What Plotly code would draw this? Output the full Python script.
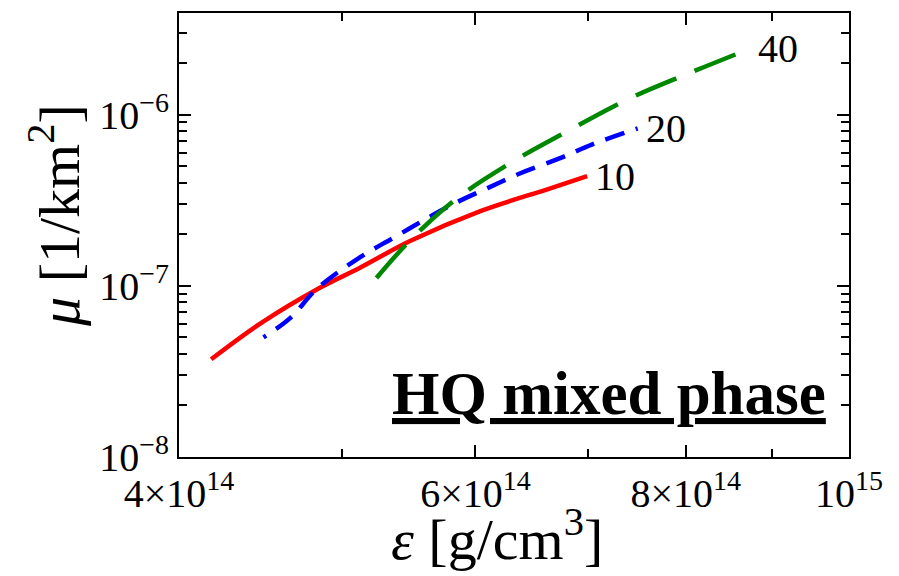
import numpy as np
import plotly.graph_objects as go

# energy density [g/cm^3] and mu [1/km^2] for each curve
eps_10 = [4.18e14, 4.47e14, 4.85e14, 5.12e14, 5.49e14, 6.04e14, 6.62e14, 6.99e14]
mu_10 = [3.72e-8, 6.01e-8, 9.73e-8, 1.27e-7, 1.83e-7, 2.73e-7, 3.66e-7, 4.37e-7]

eps_20 = [4.49e14, 4.66e14, 4.83e14, 5.12e14, 5.36e14, 5.58e14, 5.82e14, 6.10e14,
          6.38e14, 6.73e14, 7.04e14, 7.49e14]
mu_20 = [4.99e-8, 6.52e-8, 9.6e-8, 1.46e-7, 1.90e-7, 2.39e-7, 3.00e-7, 3.72e-7,
         4.54e-7, 5.54e-7, 6.70e-7, 8.30e-7]

eps_40 = [5.24e14, 5.46e14, 5.82e14, 6.29e14, 6.80e14, 7.38e14, 8.02e14, 8.73e14]
mu_40 = [1.11e-7, 1.75e-7, 3.12e-7, 5.19e-7, 7.96e-7, 1.22e-6, 1.73e-6, 2.42e-6]

curve_labels = ["10", "20", "40"]

x_tickvals = [4e14, 6e14, 8e14, 1e15]
x_ticktext = ["4×10<sup>14</sup>", "6×10<sup>14</sup>", "8×10<sup>14</sup>", "10<sup>15</sup>"]
x_minor = [5e14, 7e14, 9e14]

y_tickvals = [1e-8, 1e-7, 1e-6]
y_ticktext = ["10<sup>−8</sup>", "10<sup>−7</sup>", "10<sup>−6</sup>"]
y_minor = [m * 10.0 ** e for e in (-8, -7, -6) for m in range(2, 10)]

FONT = "Liberation Serif"

blue_dash = "3px,12px," + ",".join(["20px,12px"] * 30)

fig = go.Figure()
fig.add_trace(go.Scatter(x=eps_10, y=mu_10, mode="lines", line_shape="spline",
                         line=dict(color="#ff0000", width=4.5)))
fig.add_trace(go.Scatter(x=eps_20, y=mu_20, mode="lines", line_shape="spline",
                         line=dict(color="#0000ff", width=4.5, dash=blue_dash)))
fig.add_trace(go.Scatter(x=eps_40, y=mu_40, mode="lines", line_shape="spline",
                         line=dict(color="#008800", width=4.5, dash="44px,20px")))

# curve end labels
for xs, ys, lab in [(eps_10, mu_10, curve_labels[0]), (eps_20, mu_20, curve_labels[1]),
                    (eps_40, mu_40, curve_labels[2])]:
    fig.add_annotation(x=np.log10(xs[-1]), y=np.log10(ys[-1]), text=lab,
                       showarrow=False, xanchor="left", yanchor="middle", xshift=6,
                       font=dict(family=FONT, size=40, color="black"))

fig.add_annotation(xref="paper", yref="paper", x=0.968, y=0.062, xanchor="right",
                   yanchor="bottom", text="<b><u>HQ mixed phase</u></b>", showarrow=False,
                   font=dict(family=FONT, size=61, color="black"))

# axis titles
fig.add_annotation(xref="paper", yref="paper", x=0.475, y=-0.177, xanchor="center",
                   yanchor="middle", text="<i>ε</i> [g/cm<sup>3</sup>]", showarrow=False,
                   font=dict(family=FONT, size=58, color="black"))
fig.add_annotation(xref="paper", yref="paper", x=-0.185, y=0.543, xanchor="center",
                   yanchor="middle", textangle=-90, text="<i>μ</i> [1/km<sup>2</sup>]",
                   showarrow=False, font=dict(family=FONT, size=58, color="black"))

axis_common = dict(type="log", showgrid=False, zeroline=False, showline=True,
                   linecolor="black", linewidth=2, mirror="allticks", ticks="inside",
                   ticklen=12, tickwidth=2, tickcolor="black",
                   tickfont=dict(family=FONT, size=40, color="black"))

fig.update_xaxes(**axis_common, range=[np.log10(4e14), np.log10(1e15)],
                 tickvals=x_tickvals, ticktext=x_ticktext,
                 minor=dict(tickvals=x_minor, ticks="inside", ticklen=8, tickwidth=2,
                            tickcolor="black"))
fig.update_yaxes(**axis_common, range=[-8, -5.407],
                 tickvals=y_tickvals, ticktext=y_ticktext,
                 minor=dict(tickvals=y_minor, ticks="inside", ticklen=8, tickwidth=2,
                            tickcolor="black"))

fig.update_layout(width=899, height=576, showlegend=False,
                  paper_bgcolor="white", plot_bgcolor="white",
                  margin=dict(l=179, r=50, t=11, b=119))

fig.write_html("out.html")
